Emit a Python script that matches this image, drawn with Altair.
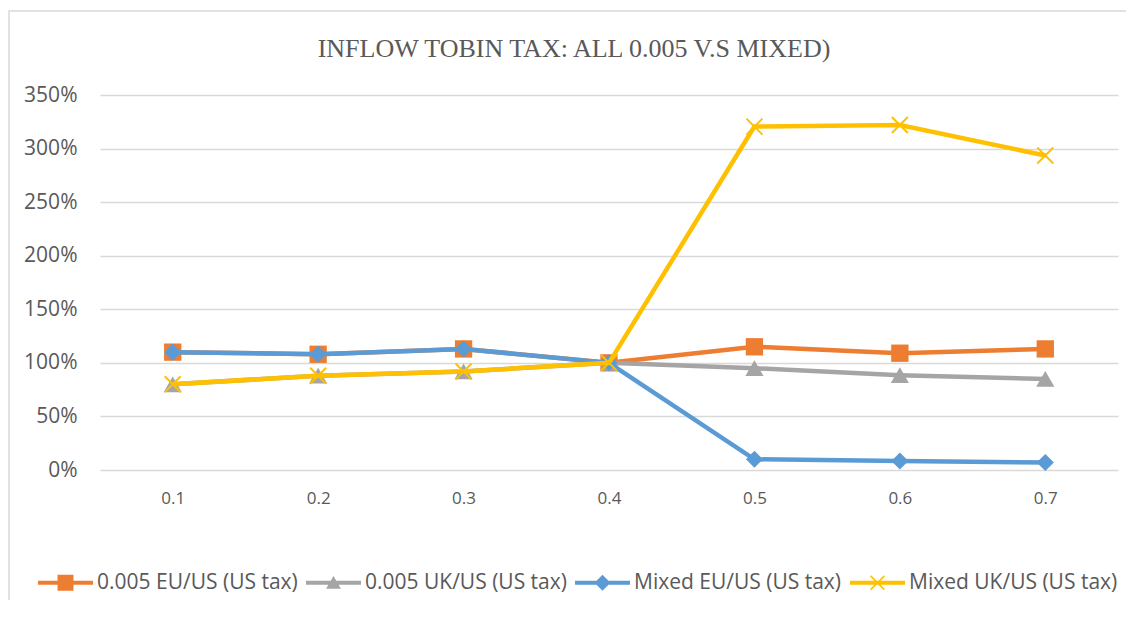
import altair as alt
import pandas as pd

# ---- data ----
categories = ["0.1", "0.2", "0.3", "0.4", "0.5", "0.6", "0.7"]
series_names = ["0.005 EU/US (US tax)", "0.005 UK/US (US tax)",
                "Mixed EU/US (US tax)", "Mixed UK/US (US tax)"]
eu_005 = [1.10, 1.08, 1.13, 1.00, 1.15, 1.09, 1.13]
uk_005 = [0.80, 0.88, 0.92, 1.00, 0.95, 0.885, 0.85]
eu_mixed = [1.10, 1.08, 1.13, 1.00, 0.10, 0.085, 0.07]
uk_mixed = [0.80, 0.88, 0.92, 1.00, 3.205, 3.22, 2.935]
y_ticks = [0, 0.5, 1.0, 1.5, 2.0, 2.5, 3.0, 3.5]

colors = ["#ED7D31", "#A5A5A5", "#5B9BD5", "#FFC000"]
title_text = "INFLOW TOBIN TAX: ALL 0.005 V.S MIXED)"

rows = []
for name, vals in zip(series_names, [eu_005, uk_005, eu_mixed, uk_mixed]):
    for c, v in zip(categories, vals):
        rows.append({"x": c, "value": v, "series": name})
df = pd.DataFrame(rows)

TEXT = "#595959"
SANS = "Open Sans"

x_enc = alt.X("x:N", sort=categories,
              scale=alt.Scale(type="point", padding=0.5),
              axis=alt.Axis(title=None, labelAngle=0, labelFont=SANS,
                            labelFontSize=17, labelColor=TEXT, labelPadding=20,
                            domain=False, ticks=False, grid=False))
y_enc = alt.Y("value:Q",
              scale=alt.Scale(domain=[0, 3.5], nice=False),
              axis=alt.Axis(title=None, values=y_ticks, format=".0%",
                            labelFont=SANS, labelFontSize=21, labelColor=TEXT,
                            labelPadding=23, domain=False, ticks=False,
                            grid=True, gridColor="#D9D9D9", gridWidth=1.5))
color_scale = alt.Scale(domain=series_names, range=colors)

# legend symbols: a line segment with the series marker in its middle
LINE = "M-1,-0.07H1V0.07H-1Z "
legend_paths = [
    LINE + "M-0.29,-0.29H0.29V0.29H-0.29Z",
    LINE + "M0,-0.25L0.27,0.22L-0.27,0.22Z",
    LINE + "M0,-0.29L0.29,0L0,0.29L-0.29,0Z",
    LINE + "M-0.229,-0.271L0.271,0.229L0.229,0.271L-0.271,-0.229Z "
           "M-0.229,0.271L-0.271,0.229L0.229,-0.271L0.271,-0.229Z",
]

base = alt.Chart(df)
layers = []

# border of the chart area
border = alt.Chart(alt.Data(values=[{"b": 1}])).mark_rect(
    filled=False, stroke="#D9D9D9", strokeWidth=1.5
).encode(x=alt.value(-91), x2=alt.value(1300), y=alt.value(-84), y2=alt.value(900))
layers.append(border)

marker_specs = [
    dict(shape="square", size=300, filled=True),
    dict(shape="triangle-up", size=330, filled=True),
    dict(shape="diamond", size=290, filled=True),
    dict(shape="M-1,-1L1,1M-1,1L1,-1", size=256, filled=False, strokeWidth=2),
]

for name, col, spec in zip(series_names, colors, marker_specs):
    sub = base.transform_filter(alt.datum.series == name)
    line = sub.mark_line(strokeWidth=4.5, color=col).encode(x=x_enc, y=y_enc)
    pts_kwargs = dict(shape=spec["shape"], size=spec["size"],
                      filled=spec["filled"], opacity=1, color=col)
    if not spec["filled"]:
        pts_kwargs["strokeWidth"] = spec["strokeWidth"]
    pts = sub.mark_point(**pts_kwargs).encode(x=x_enc, y=y_enc)
    layers += [line, pts]

legend_cfg = dict(orient="none", legendX=-62, legendY=460, direction="horizontal",
                  title=None, symbolSize=3025, symbolOpacity=1, symbolStrokeWidth=0,
                  labelFont=SANS, labelFontSize=21, labelColor=TEXT, labelLimit=0,
                  labelOffset=4, columnPadding=8, columns=4)
legend_layer = base.mark_point(filled=True, opacity=0).encode(
    x=x_enc, y=y_enc,
    color=alt.Color("series:N", scale=color_scale,
                    legend=alt.Legend(**legend_cfg)),
    shape=alt.Shape("series:N",
                    scale=alt.Scale(domain=series_names, range=legend_paths),
                    legend=alt.Legend(**legend_cfg)),
)
layers.append(legend_layer)

chart = alt.layer(*layers).properties(
    width=1018, height=375,
    title=alt.TitleParams(title_text, font="Liberation Serif", fontSize=26,
                          fontWeight="normal", color=TEXT, anchor="middle",
                          frame="group", dx=-35, offset=-52),
    autosize=alt.AutoSizeParams(type="none"),
    padding={"left": 92, "top": 87, "right": 8, "bottom": 130},
).configure_view(stroke=None)

chart.save("out.html", embed_options={"renderer": "svg", "actions": False})
